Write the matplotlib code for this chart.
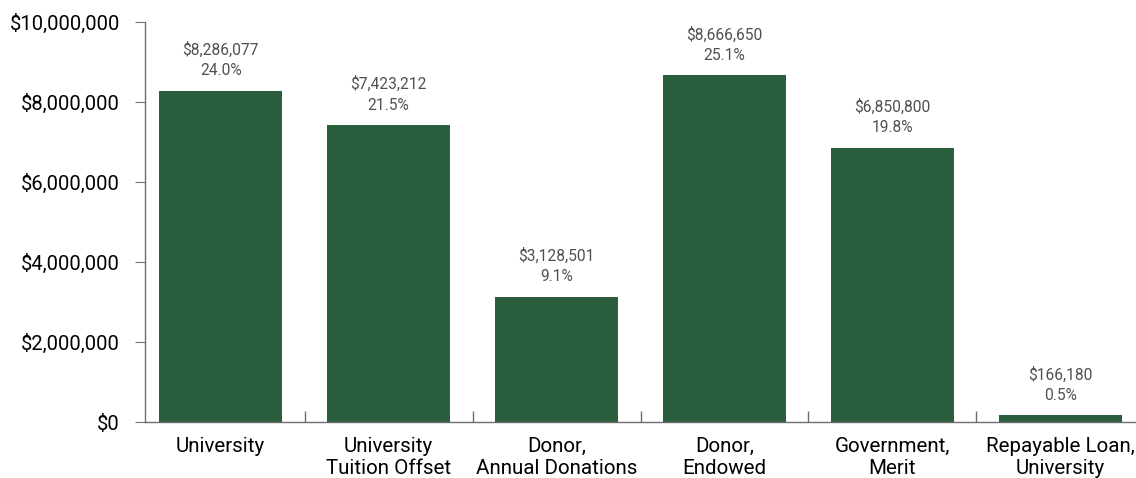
import matplotlib
matplotlib.use("Agg")
import matplotlib.pyplot as plt
from matplotlib.ticker import FuncFormatter, FixedLocator
import numpy as np

plt.rcParams['font.family'] = ['Roboto', 'DejaVu Sans']

categories = ["University", "University\nTuition Offset", "Donor,\nAnnual Donations",
              "Donor,\nEndowed", "Government,\nMerit", "Repayable Loan,\nUniversity"]
amounts = [8286077, 7423212, 3128501, 8666650, 6850800, 166180]
shares = [24.0, 21.5, 9.1, 25.1, 19.8, 0.5]

bar_color = "#2a5e3c"
spine_color = "#6e6e6e"

fig = plt.figure(figsize=(11.36, 4.78), dpi=100)
ax = fig.add_axes([145 / 1136, 56 / 478, (1136 - 145) / 1136, 400 / 478])

x = np.arange(len(categories))
bars = ax.bar(x, amounts, width=0.73, color=bar_color)

for b, amt, pct in zip(bars, amounts, shares):
    ax.annotate("${:,}\n{:.1f}%".format(amt, pct),
                xy=(b.get_x() + b.get_width() / 2, b.get_height()),
                xytext=(0, 9), textcoords="offset points",
                ha="center", va="bottom", fontsize=11.2, color="#505050",
                linespacing=1.45)

ax.set_xlim(-0.45, len(categories) - 0.55)
ax.set_ylim(0, 10000000)
ax.set_yticks(np.arange(0, 10000001, 2000000))
ax.yaxis.set_major_formatter(FuncFormatter(lambda v, p: "${:,.0f}".format(v)))

ax.set_xticks(x)
ax.set_xticklabels(categories, fontsize=14.8, linespacing=1.2)
ax.tick_params(axis="x", length=0, pad=11)
ax.xaxis.set_minor_locator(FixedLocator(x[:-1] + 0.5))
ax.tick_params(axis="x", which="minor", direction="in", length=8, color=spine_color, width=1)
ax.tick_params(axis="y", length=7, pad=11, color=spine_color, labelsize=14.5)

for s in ["top", "right"]:
    ax.spines[s].set_visible(False)
for s in ["left", "bottom"]:
    ax.spines[s].set_color(spine_color)
    ax.spines[s].set_linewidth(1)

fig.savefig("out.png", dpi=100)
